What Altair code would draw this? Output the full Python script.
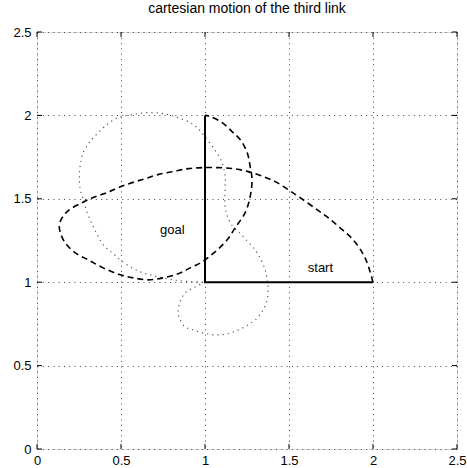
import altair as alt
import pandas as pd

# Tip of the third link (dashed): from start (2,1) to goal (1,2)
tip_x = [2.0, 1.953, 1.882, 1.804, 1.733, 1.667, 1.566, 1.495, 1.418, 1.347, 1.257, 1.168,
         1.072, 0.989, 0.90, 0.81, 0.72, 0.644, 0.567, 0.484, 0.418, 0.347, 0.269, 0.186,
         0.15, 0.133, 0.139, 0.168, 0.228, 0.305, 0.394, 0.496, 0.573, 0.662, 0.751, 0.84,
         0.912, 0.983, 1.06, 1.132, 1.18, 1.239, 1.269, 1.28, 1.269, 1.251, 1.209, 1.161,
         1.102, 1.031, 1.0]
tip_y = [1.0, 1.146, 1.254, 1.326, 1.387, 1.435, 1.507, 1.555, 1.603, 1.633, 1.663, 1.681,
         1.687, 1.687, 1.681, 1.663, 1.645, 1.621, 1.597, 1.567, 1.537, 1.513, 1.477, 1.429,
         1.387, 1.345, 1.297, 1.236, 1.176, 1.134, 1.086, 1.044, 1.026, 1.014, 1.026, 1.05,
         1.086, 1.122, 1.182, 1.254, 1.327, 1.417, 1.513, 1.615, 1.693, 1.777, 1.855, 1.903,
         1.957, 1.993, 2.0]

# Base of the third link (dotted): leaves (1,1) and returns to it
base_x = [1.0, 0.930, 0.882, 0.852, 0.840, 0.852, 0.882, 0.930, 0.989, 1.060, 1.132, 1.198,
          1.257, 1.311, 1.346, 1.370, 1.376, 1.370, 1.358, 1.311, 1.227, 1.150, 1.120, 1.120,
          1.120, 1.102, 1.049, 0.989, 0.953, 0.912, 0.870, 0.781, 0.674, 0.567, 0.484, 0.424,
          0.365, 0.311, 0.275, 0.258, 0.252, 0.258, 0.275, 0.299, 0.329, 0.359, 0.394, 0.448,
          0.496, 0.555, 0.615, 0.674, 0.751, 0.852, 1.0]
base_y = [1.0, 0.966, 0.936, 0.882, 0.822, 0.774, 0.732, 0.714, 0.696, 0.684, 0.690, 0.714,
          0.744, 0.786, 0.834, 0.894, 0.954, 1.014, 1.074, 1.176, 1.273, 1.357, 1.453, 1.573,
          1.627, 1.717, 1.807, 1.885, 1.927, 1.957, 1.975, 2.005, 2.017, 2.005, 1.987, 1.951,
          1.897, 1.837, 1.777, 1.705, 1.627, 1.555, 1.495, 1.417, 1.345, 1.285, 1.224, 1.176,
          1.134, 1.092, 1.062, 1.044, 1.026, 1.008, 1.0]

# Goal link (vertical) and start link (horizontal), joined at (1,1)
link_x = [1.0, 1.0, 2.0]
link_y = [2.0, 1.0, 1.0]

label_text = ["goal", "start"]
label_x = [0.805, 1.687]
label_y = [1.315, 1.086]

tick_values = [0, 0.5, 1, 1.5, 2, 2.5]

W, H = 420, 417
FONT = "Liberation Sans"

def path(xs, ys):
    return pd.DataFrame({"x": xs, "y": ys, "i": range(len(xs))})

xs = alt.Scale(domain=[0, 2.5], nice=False, zero=False)
ys = alt.Scale(domain=[0, 2.5], nice=False, zero=False)

axis_common = dict(
    values=tick_values, grid=True, gridColor="#444", gridDash=[1, 4.3], gridWidth=1,
    ticks=False, domain=False, labelFlush=False, labelFont=FONT, labelFontSize=13,
    labelColor="black", title=None, format="~g",
)

X = alt.X("x:Q", scale=xs, axis=alt.Axis(labelPadding=5, **axis_common))
Y = alt.Y("y:Q", scale=ys, axis=alt.Axis(labelPadding=6, **axis_common))

dotted = alt.Chart(path(base_x, base_y)).mark_line(
    color="#555", strokeDash=[1.2, 4], strokeWidth=1.2, interpolate="catmull-rom"
).encode(x=X, y=Y, order="i:Q")

dashed = alt.Chart(path(tip_x, tip_y)).mark_line(
    color="black", strokeDash=[6, 4], strokeWidth=1.6, interpolate="catmull-rom"
).encode(x=alt.X("x:Q", scale=xs), y=alt.Y("y:Q", scale=ys), order="i:Q")

solid = alt.Chart(path(link_x, link_y)).mark_line(
    color="black", strokeWidth=2
).encode(x=alt.X("x:Q", scale=xs), y=alt.Y("y:Q", scale=ys), order="i:Q")

labels = alt.Chart(pd.DataFrame({"t": label_text, "x": label_x, "y": label_y})).mark_text(
    font=FONT, fontSize=13, color="black"
).encode(x=alt.X("x:Q", scale=xs), y=alt.Y("y:Q", scale=ys), text="t:N")

# Inward tick marks on all four sides of the box
tdf = pd.DataFrame({"v": tick_values})
tick_len = 5
ticks_bottom = alt.Chart(tdf).mark_rule(color="black").encode(
    x=alt.X("v:Q", scale=xs), y=alt.value(H), y2=alt.value(H - tick_len))
ticks_top = alt.Chart(tdf).mark_rule(color="black").encode(
    x=alt.X("v:Q", scale=xs), y=alt.value(0), y2=alt.value(tick_len))
ticks_left = alt.Chart(tdf).mark_rule(color="black").encode(
    y=alt.Y("v:Q", scale=ys), x=alt.value(0), x2=alt.value(tick_len))
ticks_right = alt.Chart(tdf).mark_rule(color="black").encode(
    y=alt.Y("v:Q", scale=ys), x=alt.value(W), x2=alt.value(W - tick_len))

chart = alt.layer(
    dotted, dashed, solid, labels, ticks_bottom, ticks_top, ticks_left, ticks_right
).properties(
    width=W, height=H,
    title=alt.TitleParams("cartesian motion of the third link", font=FONT, fontSize=14,
                          fontWeight="normal", color="black", offset=10, anchor="middle"),
    autosize=alt.AutoSizeParams(type="none"),
    padding={"left": 37, "top": 32, "right": 10, "bottom": 19},
).configure_view(
    stroke="black", strokeWidth=1
).configure(background="white")

chart.save("out.html", embed_options={"renderer": "svg", "actions": False})
